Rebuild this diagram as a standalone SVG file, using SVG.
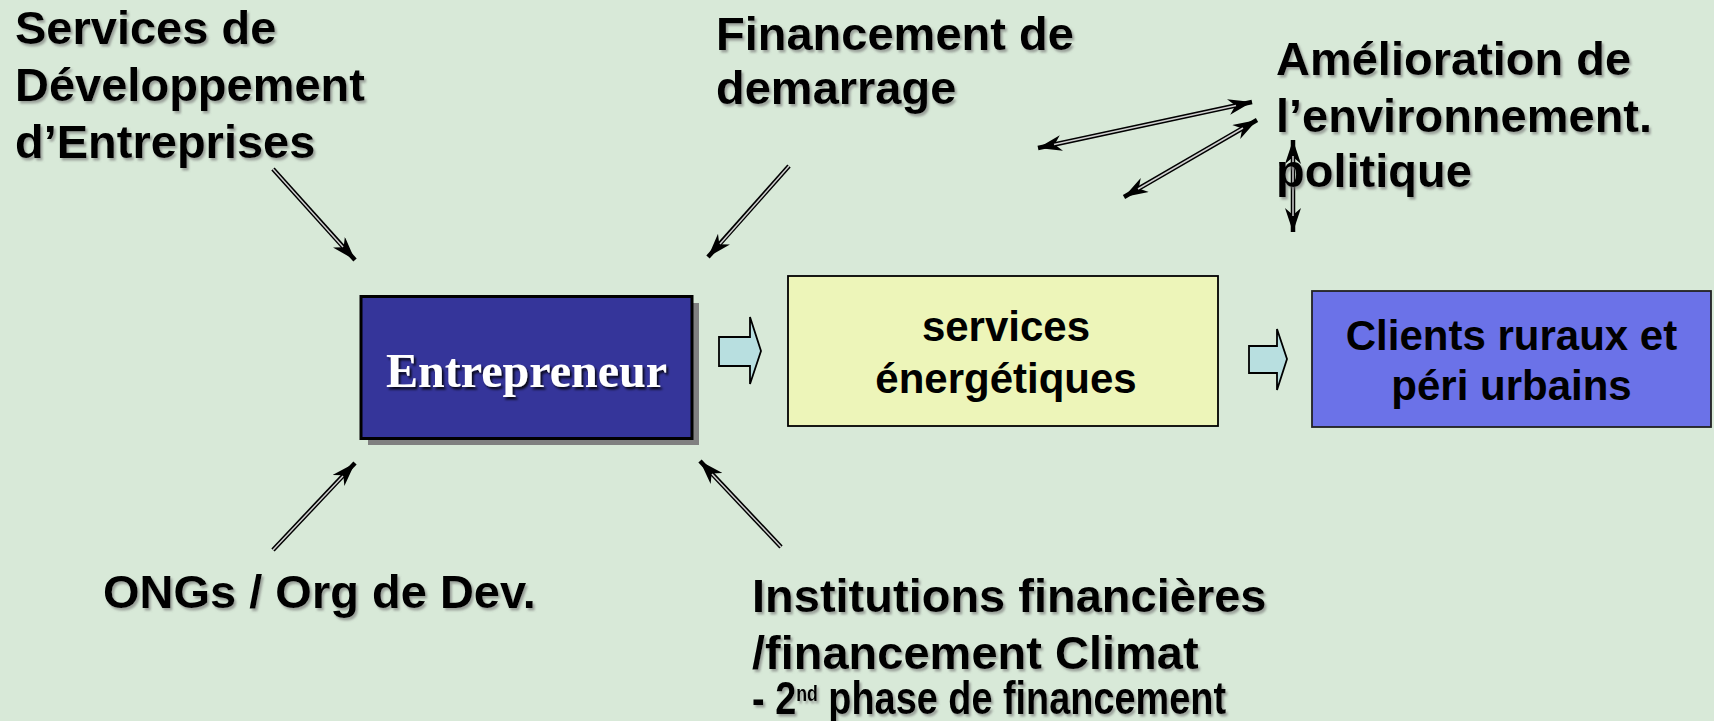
<svg xmlns="http://www.w3.org/2000/svg" width="1714" height="721" viewBox="0 0 1714 721">
<defs>
<filter id="ts" x="-5%" y="-20%" width="110%" height="140%"><feDropShadow dx="2" dy="2.5" stdDeviation="1.3" flood-color="#707070" flood-opacity="0.6"/></filter>
<filter id="tsd" x="-5%" y="-20%" width="110%" height="140%"><feDropShadow dx="2" dy="2.5" stdDeviation="1" flood-color="#000" flood-opacity="0.85"/></filter>
<marker id="ah" viewBox="0 0 24 16" refX="24" refY="8" markerWidth="24" markerHeight="16" markerUnits="userSpaceOnUse" orient="auto-start-reverse">
<path d="M0,0 L24,8 L0,16 L7,8 Z" fill="#000"/>
</marker>
<style>
.lbl{font-family:"Liberation Sans",Arial,sans-serif;font-weight:bold;font-size:47px;fill:#000;filter:url(#ts)}
.box{font-family:"Liberation Sans",Arial,sans-serif;font-weight:bold;font-size:42px;fill:#000;text-anchor:middle}
.out{stroke:#000;stroke-width:4.5;fill:none}
.in{stroke:#d0d0d0;stroke-width:1.5;fill:none}
.blk{fill:#b8dfe0;stroke:#000;stroke-width:1.8;stroke-linejoin:miter}
</style>
</defs>
<rect width="1714" height="721" fill="#d8e9d8"/>

<g id="connectors">
<line class="out" x1="273" y1="169" x2="355" y2="260" marker-end="url(#ah)"/>
<line class="in" x1="273" y1="169" x2="343" y2="247"/>
<line class="out" x1="789" y1="166" x2="708" y2="257" marker-end="url(#ah)"/>
<line class="in" x1="789" y1="166" x2="720" y2="244"/>
<line class="out" x1="273" y1="550" x2="355" y2="463" marker-end="url(#ah)"/>
<line class="in" x1="273" y1="550" x2="343" y2="476"/>
<line class="out" x1="781" y1="547" x2="700" y2="461" marker-end="url(#ah)"/>
<line class="in" x1="781" y1="547" x2="712" y2="474"/>
<line class="out" x1="1038" y1="148" x2="1252" y2="102" marker-start="url(#ah)" marker-end="url(#ah)"/>
<line class="in" x1="1054" y1="144.6" x2="1236" y2="105.4"/>
<line class="out" x1="1124" y1="197" x2="1257" y2="120" marker-start="url(#ah)" marker-end="url(#ah)"/>
<line class="in" x1="1138" y1="189" x2="1243" y2="128"/>
<line class="out" x1="1293" y1="140" x2="1293" y2="232" marker-start="url(#ah)" marker-end="url(#ah)"/>
<line class="in" x1="1293" y1="156" x2="1293" y2="216"/>
<path class="blk" d="M719,337 H750 V317 L761,351 L750,384 V366 H719 Z"/>
<path class="blk" d="M1249,346 H1277 V329 L1287,359 L1277,390 V373 H1249 Z"/>
</g>

<g id="sde">
<text class="lbl" x="15" y="44">Services de</text>
<text class="lbl" x="15" y="101">Développement</text>
<text class="lbl" x="15" y="158">d’Entreprises</text>
</g>

<g id="financement">
<text class="lbl" x="716" y="50">Financement de</text>
<text class="lbl" x="716" y="104">demarrage</text>
</g>

<g id="amelioration">
<text class="lbl" x="1276" y="75">Amélioration de</text>
<text class="lbl" x="1276" y="132">l’environnement.</text>
<text class="lbl" x="1276" y="187">politique</text>
</g>

<g id="entrepreneur">
<rect x="368" y="303" width="331" height="142" fill="#808080"/>
<rect x="361" y="296.5" width="331" height="142" fill="#35359a" stroke="#000" stroke-width="3"/>
<text x="526.5" y="387" font-family="'Liberation Serif','Times New Roman',serif" font-weight="bold" font-size="48" fill="#fff" text-anchor="middle" filter="url(#tsd)">Entrepreneur</text>
</g>

<g id="services">
<rect x="788" y="276" width="430" height="150" fill="#edf5b9" stroke="#000" stroke-width="1.8"/>
<text class="box" x="1006" y="341">services</text>
<text class="box" x="1006" y="393">énergétiques</text>
</g>

<g id="clients">
<rect x="1312" y="291" width="399" height="136" fill="#6b72e8" stroke="#222" stroke-width="1.8"/>
<text class="box" x="1511.5" y="350">Clients ruraux et</text>
<text class="box" x="1511.5" y="400">péri urbains</text>
</g>

<g id="ongs">
<text class="lbl" x="103" y="608">ONGs / Org de Dev.</text>
</g>

<g id="institutions">
<text class="lbl" x="752" y="612">Institutions financières</text>
<text class="lbl" x="752" y="669">/financement Climat</text>
<text class="lbl" x="752" y="714" font-size="34px" textLength="474" lengthAdjust="spacingAndGlyphs">- 2<tspan font-size="22px" dy="-13">nd</tspan><tspan dy="13"> phase de financement</tspan></text>
</g>
</svg>
